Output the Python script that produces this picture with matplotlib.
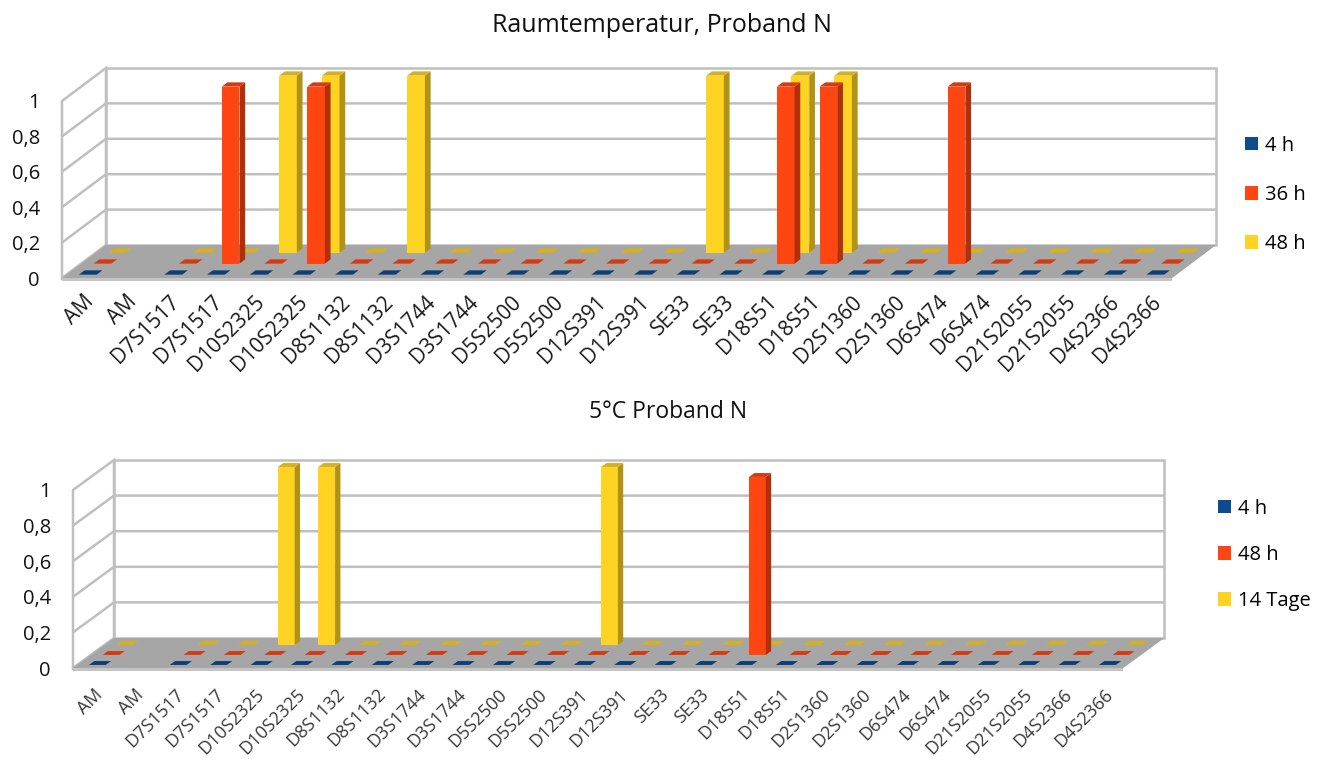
import numpy as np
import matplotlib
matplotlib.use("Agg")
import matplotlib.pyplot as plt
from matplotlib.patches import Polygon, Patch
from matplotlib.collections import PolyCollection
from matplotlib.colors import to_rgb

plt.rcParams["font.family"] = ["Open Sans", "DejaVu Sans"]

nan = np.nan

# STR loci, each allele listed twice
loci = ["AM", "AM", "D7S1517", "D7S1517", "D10S2325", "D10S2325",
        "D8S1132", "D8S1132", "D3S1744", "D3S1744", "D5S2500", "D5S2500",
        "D12S391", "D12S391", "SE33", "SE33", "D18S51", "D18S51",
        "D2S1360", "D2S1360", "D6S474", "D6S474", "D21S2055", "D21S2055",
        "D4S2366", "D4S2366"]

y_ticks = [0, 0.2, 0.4, 0.6, 0.8, 1.0]
y_tick_labels = ["0", "0,2", "0,4", "0,6", "0,8", "1"]

# Room temperature
rt_names = ["4 h", "36 h", "48 h"]
rt_4h  = [0, nan, 0, 0, 0, 0, 0, 0, 0, 0, 0, 0, 0, 0, 0, 0, 0, 0, 0, 0, 0, 0, 0, 0, 0, 0]
rt_36h = [0, nan, 0, 1, 0, 1, 0, 0, 0, 0, 0, 0, 0, 0, 0, 0, 1, 1, 0, 0, 1, 0, 0, 0, 0, 0]
rt_48h = [0, nan, 0, 0, 1, 1, 0, 1, 0, 0, 0, 0, 0, 0, 1, 0, 1, 1, 0, 0, 0, 0, 0, 0, 0, 0]

# 5 °C
c5_names = ["4 h", "48 h", "14 Tage"]
c5_4h  = [0, nan, 0, 0, 0, 0, 0, 0, 0, 0, 0, 0, 0, 0, 0, 0, 0, 0, 0, 0, 0, 0, 0, 0, 0, 0]
c5_48h = [0, nan, 0, 0, 0, 0, 0, 0, 0, 0, 0, 0, 0, 0, 0, 0, 1, 0, 0, 0, 0, 0, 0, 0, 0, 0]
c5_14d = [0, nan, 0, 0, 1, 1, 0, 0, 0, 0, 0, 0, 1, 0, 0, 0, 0, 0, 0, 0, 0, 0, 0, 0, 0, 0]

COLORS = ["#0E4A8E", "#FF4512", "#FFD322"]
WALL_EDGE = "#BFBFBF"
FLOOR = "#A6A6A6"

W, H = 1328, 760
fig = plt.figure(figsize=(W / 100, H / 100), dpi=100)


def shade(c, f):
    r, g, b = to_rgb(c)
    return (r * f, g * f, b * f)


def panel(series, names, title, geo, label_color):
    x0, y0 = geo["origin"]          # front-left floor corner, pixels from top-left
    cpx, upx = geo["cat_px"], geo["unit_px"]
    ddx, ddy = geo["depth_px"]
    DX = ddx / cpx                  # depth offset in category units
    DY = -ddy / upx                 # depth offset in value units
    n = len(loci)
    xr = (-0.5, n - 0.5 + DX + 0.1)
    yr = (0, 1 + DY + 0.06)
    ax = fig.add_axes([x0 / W, 1 - y0 / H,
                       (xr[1] - xr[0]) * cpx / W, (yr[1] - yr[0]) * upx / H])
    ax.set_xlim(*xr)
    ax.set_ylim(*yr)
    ax.patch.set_visible(False)
    for s in ax.spines.values():
        s.set_visible(False)

    left, right = -0.5, n - 0.5
    # back wall and side wall
    ax.add_patch(Polygon([(left + DX, DY), (right + DX, DY), (right + DX, 1 + DY),
                          (left + DX, 1 + DY)], closed=True, facecolor="white",
                         edgecolor=WALL_EDGE, lw=1.8, zorder=1, clip_on=False))
    ax.add_patch(Polygon([(left, 0), (left + DX, DY), (left + DX, 1 + DY), (left, 1)],
                         closed=True, facecolor="white", edgecolor=WALL_EDGE,
                         lw=1.8, zorder=1, clip_on=False))
    for v in y_ticks[1:-1]:
        ax.plot([left, left + DX, right + DX], [v, v + DY, v + DY],
                color=WALL_EDGE, lw=1.8, zorder=1.1, clip_on=False,
                solid_capstyle="butt")
    # floor
    t = 3.0 / upx
    ax.add_patch(Polygon([(left, -t), (right, -t), (right, 0), (left, 0)],
                         closed=True, facecolor="#C4C4C4", edgecolor="none",
                         zorder=1.5, clip_on=False))
    ax.add_patch(Polygon([(left, 0), (right, 0), (right + DX, DY), (left + DX, DY)],
                         closed=True, facecolor=FLOOR, edgecolor="none",
                         zorder=1.6, clip_on=False))

    # 3D columns, one depth row per series, drawn back to front
    w = 0.415
    bd = 0.13
    xc = np.arange(n, dtype=float)
    for r in reversed(range(len(series))):
        col = COLORS[r]
        vals = np.asarray(series[r], dtype=float)
        ok = ~np.isnan(vals)
        dc = (2 * r + 1) / 6
        df, db = dc - bd / 2, dc + bd / 2
        z = 3 + (len(series) - r)
        xs, vs = xc[ok], vals[ok]
        ax.bar(xs + df * DX, vs, width=w, bottom=df * DY, color=col,
               linewidth=0, zorder=z, clip_on=False)
        sides, tops = [], []
        for x, v in zip(xs, vs):
            xl, xrr = x - w / 2, x + w / 2
            if v > 0:
                sides.append([(xrr + df * DX, df * DY), (xrr + db * DX, db * DY),
                              (xrr + db * DX, v + db * DY), (xrr + df * DX, v + df * DY)])
            tops.append([(xl + df * DX, v + df * DY), (xrr + df * DX, v + df * DY),
                         (xrr + db * DX, v + db * DY), (xl + db * DX, v + db * DY)])
        ax.add_collection(PolyCollection(sides, facecolors=[shade(col, 0.69)],
                                         edgecolors="none", zorder=z, clip_on=False))
        ax.add_collection(PolyCollection(tops, facecolors=[shade(col, 0.84)],
                                         edgecolors="none", zorder=z + 0.1, clip_on=False))

    ax.set_yticks(y_ticks, y_tick_labels, fontsize=14.5, color="#111111")
    ax.tick_params(axis="y", length=0, pad=16)
    ax.set_xticks(xc + DX / 6, loci, fontsize=geo["xsize"], color=label_color,
                  rotation=45, ha="right", va="center", rotation_mode="anchor")
    ax.tick_params(axis="x", length=0, pad=geo["xpad"])

    tx, ty = geo["title_xy"]
    fig.text(tx / W, 1 - ty / H, title, ha="center", va="center",
             fontsize=geo["title_size"], color="#111111")

    lx, ly = geo["legend_xy"]
    handles = [Patch(facecolor=c, edgecolor="none") for c in COLORS]
    fig.legend(handles, names, loc="center left", bbox_to_anchor=(lx / W, 1 - ly / H),
               frameon=False, fontsize=14.5, handlelength=0.65, handleheight=0.65,
               handletextpad=0.35, labelspacing=geo["legend_spacing"],
               borderpad=0, borderaxespad=0)
    return ax


top_geo = dict(origin=(62, 278), cat_px=42.7, unit_px=177, depth_px=(44, -33),
               xsize=15, xpad=15, title_xy=(662, 25), title_size=18,
               legend_xy=(1245, 195), legend_spacing=1.45)
bot_geo = dict(origin=(73, 668), cat_px=40.4, unit_px=178, depth_px=(41, -30),
               xsize=13, xpad=17, title_xy=(668, 412), title_size=16.5,
               legend_xy=(1218, 555), legend_spacing=1.3)

panel([rt_4h, rt_36h, rt_48h], rt_names, "Raumtemperatur, Proband N", top_geo, "#1A1A1A")
panel([c5_4h, c5_48h, c5_14d], c5_names, "5°C Proband N", bot_geo, "#3A3A3A")

fig.savefig("out.png", dpi=100)
